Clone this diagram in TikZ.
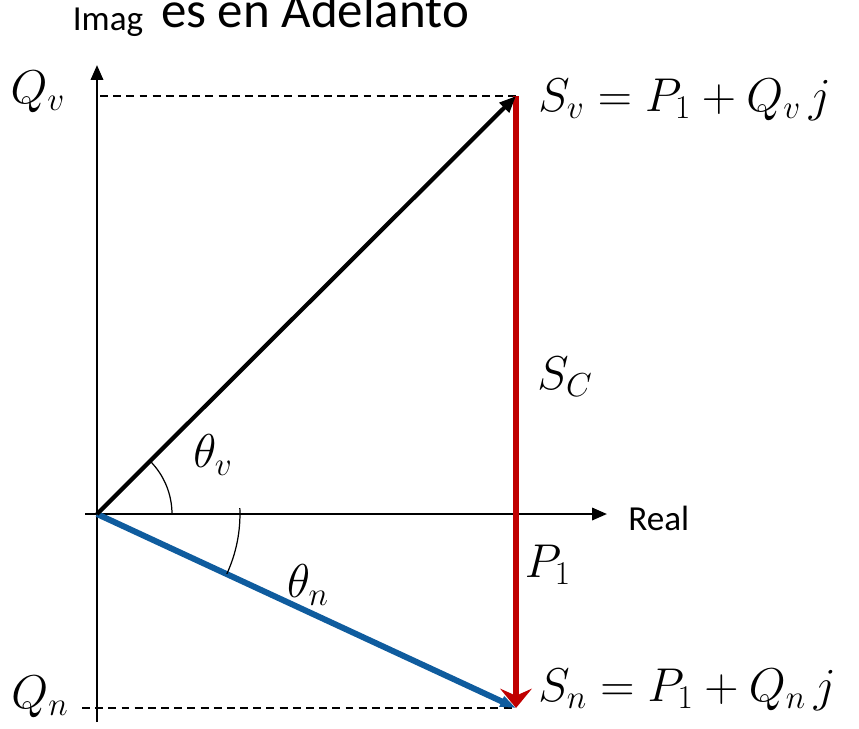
\RequirePackage{fix-cm}
\documentclass[tikz,border=0pt]{standalone}
\usepackage{amsmath}
\usepackage{fontspec}
\setsansfont{Carlito}
\usetikzlibrary{positioning}
\usetikzlibrary{arrows.meta}
\definecolor{fasorrojo}{HTML}{C00000}
\definecolor{fasorazul}{HTML}{0F5C9E}

\begin{document}
\begin{tikzpicture}[x=0.02cm, y=-0.02cm]
    % Estilos de ejes, fasores y etiquetas
    \tikzset{
        eje/.style={
            line width=1.4pt,
            -{Triangle[length=8.5pt, width=7pt]}
        },
        guia/.style={
            line width=0.8pt,
            dash pattern=on 4.5pt off 3pt
        },
        fasor/.style={
            line width=2.4pt,
            -{Triangle[length=9.5pt, width=7.5pt]}
        },
        arco/.style={line width=0.7pt},
        mate/.style={font=\fontsize{27}{30}\selectfont, inner sep=0pt},
        texto/.style={font=\sffamily\fontsize{20}{24}\selectfont, inner sep=0pt}
    }
    \useasboundingbox (0,0) rectangle (859,728);

    % Puntos del triangulo de potencias
    \coordinate (O) at (97,514);
    \coordinate (Sv) at (516,96);
    \coordinate (Sn) at (516,708);
    \coordinate (ImagTop) at (97,65);
    \coordinate (ImagBot) at (97,722);
    \coordinate (RealIzq) at (85,514);
    \coordinate (RealDer) at (607,514);
    \coordinate (Qv) at (100,96);
    \coordinate (Qn) at (82,708);

    % Ejes y lineas guia
    \draw[eje] (ImagBot) -- (ImagTop);
    \draw[eje] (RealIzq) -- (RealDer);
    \draw[guia] (Qv) -- (Sv);
    \draw[guia] (Qn) -- (Sn);

    % Fasores
    \draw[fasor, fasorazul, line width=3.4pt,
          -{Triangle[length=9pt, width=6pt]}] (O) -- (Sn);
    \draw[fasor, fasorrojo, line width=3.4pt,
          -{Stealth[length=11pt, width=18pt, inset=4pt]}] (Sv) -- (Sn);
    \draw[fasor] (O) -- (Sv);

    % Angulos
    \draw[arco] ([shift={(0:1.5cm)}]O) arc[start angle=0, end angle=45, radius=1.5cm];
    \draw[arco] ([shift={(2.4:2.86cm)}]O) arc[start angle=2.4, end angle=-24.8, radius=2.86cm];

    % Etiquetas
    \node[texto] (imag) at (108,22) {Imag};
    \node[texto, anchor=base, font=\sffamily\fontsize{29}{32}\selectfont] (titulo) at (315,27) {es en Adelanto};
    \node[texto, anchor=west] (real) at (628,518) {Real};
    \node[mate] (qv) at (38,92) {$Q_v$};
    \node[mate] (qn) at (40,697) {$Q_n$};
    \node[mate, anchor=west] (eqv) at (538,100) {$S_v = P_1 + Q_v\, j$};
    \node[mate, anchor=west] (eqn) at (538,690) {$S_n = P_1 + Q_n\, j$};
    \node[mate] (sc) at (565,377) {$S_C$};
    \node[mate] (p1) at (548,565) {$P_1$};
    \node[mate] (tv) at (213,455) {$\theta_v$};
    \node[mate] (tn) at (308,585) {$\theta_n$};
\end{tikzpicture}
\end{document}
